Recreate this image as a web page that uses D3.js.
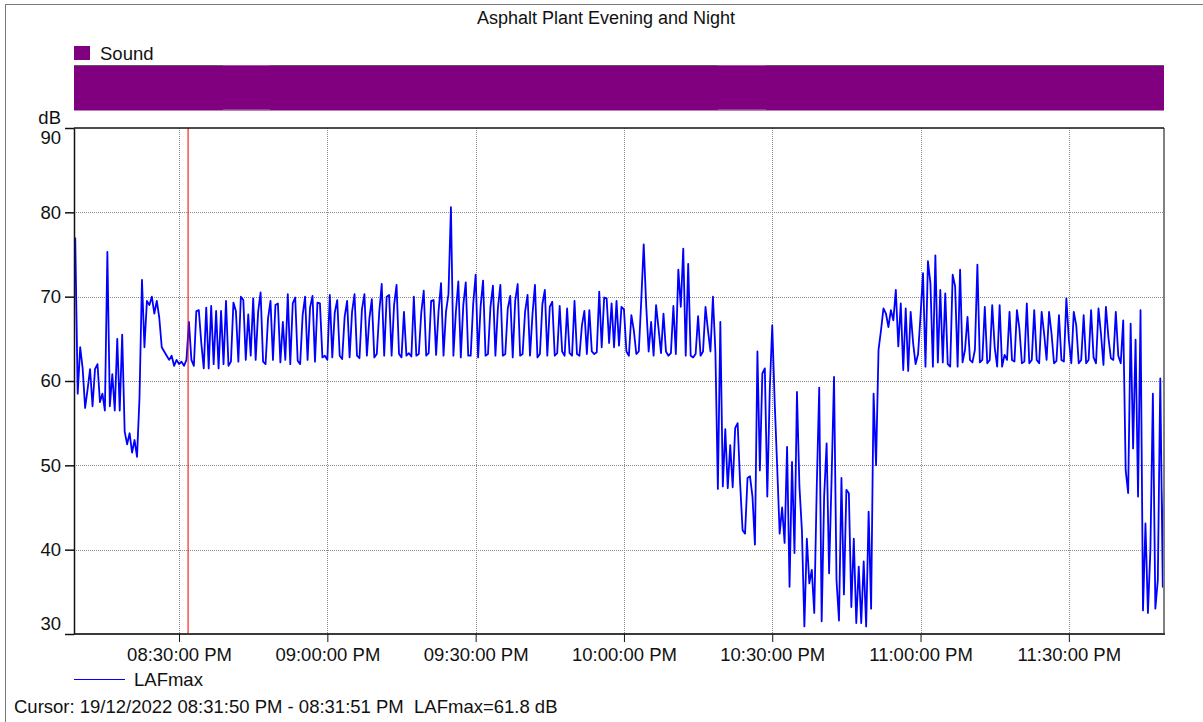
<!DOCTYPE html>
<html lang="en">
  <head>
    <meta charset="UTF-8" />
    <title>Asphalt Plant Evening and Night</title>
    <script src="https://d3js.org/d3.v7.min.js"></script>
    <style>
      body {
        margin: 0;
        background: #fff;
      }
      svg {
        font-family: "Liberation Sans", Arial, sans-serif;
        font-size: 18.5px;
      }
      .grid line {
        stroke: #8a8a8a;
        stroke-dasharray: 1, 1;
        shape-rendering: crispEdges;
      }
      .line {
        fill: none;
        stroke: #0000ff;
        stroke-width: 1.8px;
        stroke-linejoin: round;
      }
    </style>
  </head>
  <body>
    <div id="chart"></div>
    <script>
      var title = "Asphalt Plant Evening and Night";
      var seriesName = "LAFmax";
      var bandName = "Sound";
      var unitLabel = "dB";

      // LAFmax, one reading every 30 s starting 08:09:00 PM
      var startTime = new Date(2022, 11, 19, 20, 9, 0);
      var stepSeconds = 30;
      var lafmax = [
        77, 58.5, 64, 61.5, 56.8, 59, 61.4, 57, 61.4, 62,
        57.5, 58.5, 56.5, 75.3, 57, 60.8, 56.5, 65, 56.5, 65.5,
        54, 52.5, 53.8, 51.5, 53, 51, 58, 72, 64, 69.5,
        69, 70, 68, 69.5, 67.5, 64, 63.5, 63, 62.5, 63,
        61.8, 62.5, 62, 62.3, 61.8, 62.5, 67, 62.5, 61.8, 68.3,
        68.4, 64.5, 61.5, 68.7, 61.5, 68.9, 62, 68.3, 61.5, 68.3,
        62, 69.5, 61.8, 62.3, 69.3, 68.3, 62.3, 70, 69.6, 62.5,
        67.9, 63, 69.8, 62.5, 68.2, 70.5, 62.3, 62, 67.4, 69.5,
        62.5, 69, 69.2, 62.2, 67, 62.5, 70.3, 62, 69.2, 69.9,
        62.4, 62, 67.8, 70, 62.5, 68.7, 70.1, 62.3, 69.3, 69.2,
        62.8, 63, 62.5, 70.2, 62.8, 68.1, 69.6, 63, 62.6, 67.6,
        69.5, 62.8, 68.2, 70.3, 63, 62.7, 68.5, 70.3, 63, 67.4,
        69.7, 62.8, 63.2, 68.2, 71.5, 63, 70, 70.2, 63, 69,
        71.4, 63.2, 62.8, 68.2, 63, 63.3, 62.9, 70, 63, 63.2,
        68.1, 70.7, 63, 63.3, 69.5, 69.6, 63.1, 68.3, 71.6, 63,
        68.2, 70.3, 80.6, 63, 68.2, 71.8, 62.8, 69, 71.7, 63,
        63, 69.1, 72.6, 62.8, 68.8, 71.9, 63, 63.2, 68.8, 71.3,
        63, 68.6, 71.4, 63, 63.2, 68.6, 70.1, 62.8, 69.5, 71.5,
        63, 63.2, 68.2, 70.2, 63, 67.9, 71.4, 62.8, 63.2, 69.1,
        70.8, 63, 68.8, 69.4, 63, 63.3, 68.9, 63.5, 63, 68.6,
        63.3, 63, 69.5, 63.2, 63, 66.6, 68.3, 63.2, 68.4, 63.5,
        63.2, 63.4, 70.6, 64, 69.9, 69.8, 64.5, 69.2, 64, 69.5,
        64.2, 68.8, 68.5, 63.5, 63, 67.8, 66, 63.2, 63.5, 69.5,
        76.2, 69, 63.5, 67, 63, 69, 66.2, 63.3, 68, 63.5,
        63, 63.3, 68.9, 63.2, 73.2, 68.8, 75.7, 63, 73.9, 63,
        62.8, 63.2, 67.7, 63, 63.5, 68.8, 66, 63.5, 70, 63.5,
        47.2, 67, 47.5, 54.3, 47.3, 52.4, 47.4, 54.4, 55, 47.9,
        42.3, 41.9, 48.5, 48.7, 46.3, 40.6, 63.5, 49.4, 60.9, 61.5,
        46.3, 59, 66.6, 57.4, 49.8, 41.9, 45, 40.8, 52.2, 35.6,
        50.4, 39.6, 58.7, 47.5, 42.3, 30.9, 41.3, 36, 37.6, 32.5,
        47.3, 59.2, 31.5, 46.3, 52.6, 37.2, 48.3, 60.5, 36.4, 31.6,
        48.5, 34.7, 47.1, 46.7, 33.2, 41.3, 31.3, 38, 31.3, 38.6,
        30.9, 44.5, 33, 58.5, 50, 63.7, 66, 68.6, 68, 66.4,
        68.4, 67.2, 70.8, 64.1, 69.2, 61.3, 68.6, 61.2, 68.2, 64.5,
        62, 63.2, 67.8, 72.8, 61.7, 74.2, 71.6, 61.7, 74.9, 62.2,
        70.8, 62.2, 70.4, 62, 61.7, 72.6, 71.2, 61.7, 73.2, 62.2,
        63.7, 67.6, 62.5, 62.2, 63.7, 73.8, 62.2, 62.5, 68.8, 62.1,
        62.5, 69, 64, 61.7, 69, 61.7, 63.1, 62.5, 68.2, 62.5,
        62.3, 68.4, 66.2, 62.1, 62.3, 69.2, 62.1, 62.5, 68.4, 62.5,
        62.1, 68.2, 65.6, 62.5, 68.2, 65.6, 62.1, 62.4, 67.8, 62.5,
        62.3, 69.8, 64.9, 62.1, 68.2, 66.6, 62.1, 62.5, 67.8, 62.1,
        62.5, 68.4, 62.8, 62.1, 68.6, 65.6, 61.9, 68.8, 65.2, 62.7,
        62.5, 68.2, 63, 62.1, 67.2, 49.4, 46.7, 66.8, 52, 64.9,
        46.3, 68.4, 32.8, 43.1, 32.5, 40, 58.5, 33, 36.4, 60.3,
        35.6, 61.1
      ];

      var xDomain = [
        new Date(2022, 11, 19, 20, 8, 45),
        new Date(2022, 11, 19, 23, 49, 15),
      ];
      var yTicks = [30, 40, 50, 60, 70, 80, 90];
      var yGrid = [40, 50, 60, 70, 80];

      // lighter edge segments on the Sound band
      var bandMarks = [
        [new Date(2022, 11, 19, 20, 38, 53), new Date(2022, 11, 19, 20, 48, 24)],
        [new Date(2022, 11, 19, 22, 19, 2), new Date(2022, 11, 19, 22, 28, 45)],
      ];

      var cursorTime = new Date(2022, 11, 19, 20, 31, 50);
      var cursorText =
        "Cursor: 19/12/2022 08:31:50 PM - 08:31:51 PM  LAFmax=61.8 dB";

      var width = 1203,
        height = 722;
      var plot = { left: 74, right: 1164, top: 128, bottom: 634 };

      var data = lafmax.map(function (v, i) {
        return {
          t: new Date(startTime.getTime() + i * stepSeconds * 1000),
          v: v,
        };
      });

      var svg = d3
        .select("#chart")
        .append("svg")
        .attr("width", width)
        .attr("height", height);

      // outer frame
      svg
        .append("rect")
        .attr("x", 5.5)
        .attr("y", 4.5)
        .attr("width", 1220)
        .attr("height", 740)
        .attr("fill", "none")
        .attr("stroke", "#7a7a7a");

      var x = d3.scaleTime().domain(xDomain).range([plot.left, plot.right]);
      var y = d3.scaleLinear().domain([30, 90]).range([plot.bottom, plot.top]);
      var xTicks = x.ticks(d3.timeMinute.every(30));

      // title
      svg
        .append("text")
        .attr("x", 606)
        .attr("y", 24)
        .attr("text-anchor", "middle")
        .attr("font-size", 18)
        .attr("fill", "#111")
        .text(title);

      // Sound legend + band
      svg
        .append("rect")
        .attr("x", 74)
        .attr("y", 46)
        .attr("width", 16)
        .attr("height", 14)
        .attr("fill", "#800080");
      svg
        .append("text")
        .attr("x", 100)
        .attr("y", 60)
        .attr("fill", "#111")
        .text(bandName);

      svg
        .append("rect")
        .attr("x", x(xDomain[0]))
        .attr("y", 66)
        .attr("width", x(xDomain[1]) - x(xDomain[0]))
        .attr("height", 44.5)
        .attr("fill", "#800080");
      svg
        .append("line")
        .attr("x1", x(xDomain[0]))
        .attr("x2", x(xDomain[1]))
        .attr("y1", 65.5)
        .attr("y2", 65.5)
        .attr("stroke", "#5a5a5a");
      svg
        .append("g")
        .selectAll("rect")
        .data(bandMarks)
        .enter()
        .append("rect")
        .attr("x", function (d) {
          return x(d[0]);
        })
        .attr("y", 65)
        .attr("width", function (d) {
          return x(d[1]) - x(d[0]);
        })
        .attr("height", 1)
        .attr("fill", "#9a5a9a");
      svg
        .append("g")
        .selectAll("rect")
        .data(bandMarks)
        .enter()
        .append("rect")
        .attr("x", function (d) {
          return x(d[0]);
        })
        .attr("y", 109.5)
        .attr("width", function (d) {
          return x(d[1]) - x(d[0]);
        })
        .attr("height", 1)
        .attr("fill", "#b080b0");

      // grid
      var grid = svg.append("g").attr("class", "grid");
      grid
        .selectAll(".h")
        .data(yGrid)
        .enter()
        .append("line")
        .attr("x1", plot.left)
        .attr("x2", plot.right)
        .attr("y1", function (d) {
          return Math.round(y(d)) + 0.5;
        })
        .attr("y2", function (d) {
          return Math.round(y(d)) + 0.5;
        });
      grid
        .selectAll(".v")
        .data(xTicks)
        .enter()
        .append("line")
        .attr("y1", plot.top)
        .attr("y2", plot.bottom)
        .attr("x1", function (d) {
          return Math.round(x(d)) + 0.5;
        })
        .attr("x2", function (d) {
          return Math.round(x(d)) + 0.5;
        });

      // the series
      svg
        .append("clipPath")
        .attr("id", "clip")
        .append("rect")
        .attr("x", plot.left)
        .attr("y", plot.top)
        .attr("width", plot.right - plot.left)
        .attr("height", plot.bottom - plot.top);

      var valueline = d3
        .line()
        .x(function (d) {
          return x(d.t);
        })
        .y(function (d) {
          return y(d.v);
        });

      svg
        .append("path")
        .datum(data)
        .attr("class", "line")
        .attr("clip-path", "url(#clip)")
        .attr("d", valueline);

      // cursor
      svg
        .append("line")
        .attr("x1", x(cursorTime))
        .attr("x2", x(cursorTime))
        .attr("y1", plot.top)
        .attr("y2", plot.bottom)
        .attr("stroke", "#ff0000")
        .attr("stroke-opacity", 0.75)
        .attr("stroke-width", 1.4);

      // plot frame
      svg
        .append("line")
        .attr("x1", plot.right)
        .attr("x2", plot.right)
        .attr("y1", plot.top)
        .attr("y2", plot.bottom)
        .attr("stroke", "#808080")
        .attr("stroke-width", 2);
      svg
        .append("line")
        .attr("x1", plot.left)
        .attr("x2", plot.right)
        .attr("y1", plot.top)
        .attr("y2", plot.top)
        .attr("stroke", "#111")
        .attr("stroke-width", 1.5);
      svg
        .append("line")
        .attr("x1", plot.left)
        .attr("x2", plot.right + 1)
        .attr("y1", plot.bottom)
        .attr("y2", plot.bottom)
        .attr("stroke", "#3a3a3a")
        .attr("stroke-width", 2);

      // y axis
      var yAxis = svg
        .append("g")
        .attr("transform", "translate(" + plot.left + ",0)")
        .call(
          d3.axisLeft(y).tickValues(yTicks).tickSize(9).tickPadding(4).tickSizeOuter(0)
        );
      yAxis.select(".domain").attr("stroke", "#111").attr("stroke-width", 1.5);
      yAxis.selectAll(".tick line").attr("stroke", "#111").attr("stroke-width", 1.5);
      yAxis
        .selectAll(".tick text")
        .attr("font-size", 18.5)
        .attr("font-family", "Liberation Sans, Arial, sans-serif")
        .attr("fill", "#111")
        .attr("y", function (d) {
          var p = Math.max(plot.top + 9.5, Math.min(plot.bottom - 10.5, y(d)));
          return p - y(d);
        });

      svg
        .append("text")
        .attr("x", 61)
        .attr("y", 124)
        .attr("text-anchor", "end")
        .attr("fill", "#111")
        .text(unitLabel);

      // x axis
      var xAxis = svg
        .append("g")
        .attr("transform", "translate(0," + plot.bottom + ")")
        .call(
          d3
            .axisBottom(x)
            .tickValues(xTicks)
            .tickFormat(d3.timeFormat("%I:%M:%S %p"))
            .tickSize(8)
            .tickPadding(6)
            .tickSizeOuter(0)
        );
      xAxis.select(".domain").remove();
      xAxis.selectAll(".tick line").attr("stroke", "#111");
      xAxis
        .selectAll(".tick text")
        .attr("font-size", 18.5)
        .attr("font-family", "Liberation Sans, Arial, sans-serif")
        .attr("fill", "#111");

      // bottom legend
      svg
        .append("line")
        .attr("x1", 74)
        .attr("x2", 125)
        .attr("y1", 679.5)
        .attr("y2", 679.5)
        .attr("stroke", "#0000ff");
      svg
        .append("text")
        .attr("x", 134)
        .attr("y", 686)
        .attr("fill", "#111")
        .text(seriesName);

      svg
        .append("text")
        .attr("x", 14)
        .attr("y", 713)
        .attr("fill", "#111")
        .style("white-space", "pre")
        .text(cursorText);
    </script>
  </body>
</html>
